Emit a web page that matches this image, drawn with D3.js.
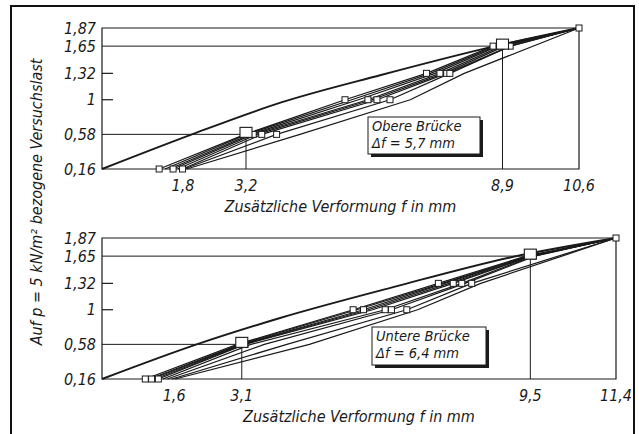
<!DOCTYPE html>
<html>
<head>
<meta charset="utf-8">
<script src="https://cdn.jsdelivr.net/npm/d3@7"></script>
<style>
  body { margin: 0; background: #fff; }
  text { font-family: "DejaVu Sans Condensed", "Liberation Sans Narrow", sans-serif; font-style: italic; fill: #1a1a1a; }
</style>
</head>
<body>
<svg width="639" height="434"></svg>
<script>
// Laststufen, bezogen auf p = 5 kN/m2
var loadLevels = [0.16, 0.58, 1, 1.32, 1.65, 1.87];
var loadLabels = ["0,16", "0,58", "1", "1,32", "1,65", "1,87"];
var innerTicks = [1, 1.32];

// obere Brücke
var obenTicks = [1.8, 3.2, 8.9, 10.6];
var obenTickLabels = ["1,8", "3,2", "8,9", "10,6"];
var obenErstF = [0, 2.0, 4.0, 6.2, 8.5, 10.6];
var obenErstP = [0.16, 0.58, 0.97, 1.30, 1.62, 1.87];
var obenZyklen = [
  [1.27, 3.18, 5.40, 7.21, 8.69, 10.6],
  [1.40, 3.22, 5.55, 7.30, 8.75, 10.6],
  [1.50, 3.30, 5.70, 7.40, 8.80, 10.6],
  [1.58, 3.36, 5.91, 7.51, 8.88, 10.6],
  [1.68, 3.45, 6.00, 7.60, 8.95, 10.6],
  [1.79, 3.55, 6.11, 7.66, 9.07, 10.6],
  [1.82, 3.88, 6.40, 7.73, 9.07, 10.6],
  [1.88, 4.40, 6.85, 8.05, null, 10.6]
];
var obenMarkF = [1.27, 1.58, 1.79, 3.36, 3.55, 3.88, 5.40, 5.91, 6.11, 6.40, 7.21, 7.51, 7.66, 7.73, 8.69, 9.07, 10.6];
var obenMarkP = [0.16, 0.16, 0.16, 0.58, 0.58, 0.58, 1, 1, 1, 1, 1.32, 1.32, 1.32, 1.32, 1.65, 1.65, 1.87];
var obenRefF = [3.2, 8.9];
var obenRefP = [0.58, 1.65];
var obenText = ["Obere Brücke", "Δf = 5,7 mm"];

// untere Brücke
var untenTicks = [1.6, 3.1, 9.5, 11.4];
var untenTickLabels = ["1,6", "3,1", "9,5", "11,4"];
var untenErstF = [0, 2.1, 3.95, 6.5, 9.1, 11.4];
var untenErstP = [0.16, 0.58, 0.90, 1.28, 1.64, 1.87];
var untenZyklen = [
  [0.96, 3.00, 5.57, 7.46, 9.40, 11.4],
  [1.05, 3.06, 5.65, 7.55, 9.45, 11.4],
  [1.10, 3.10, 5.80, 7.60, 9.48, 11.4],
  [1.18, 3.14, 5.90, 7.70, 9.52, 11.4],
  [1.25, 3.17, 6.00, 7.79, 9.53, 11.4],
  [1.35, 3.30, 6.28, 7.98, 9.56, 11.4],
  [1.45, 3.60, 6.42, 8.05, 9.60, 11.4],
  [1.55, 4.10, 6.76, 8.20, null, 11.4],
  [1.62, 4.60, 7.00, 8.40, null, 11.4]
];
var untenMarkF = [0.96, 1.10, 1.25, 3.17, 5.57, 5.80, 6.28, 6.42, 6.76, 7.46, 7.79, 7.98, 8.20, 9.56, 11.4];
var untenMarkP = [0.16, 0.16, 0.16, 0.58, 1, 1, 1, 1, 1, 1.32, 1.32, 1.32, 1.32, 1.65, 1.87];
var untenRefF = [3.1, 9.5];
var untenRefP = [0.58, 1.65];
var untenText = ["Untere Brücke", "Δf = 6,4 mm"];

var svg = d3.select("svg");

// Rahmen
svg.append("rect")
  .attr("x", 11).attr("y", 6).attr("width", 623).attr("height", 440)
  .attr("fill", "none").attr("stroke", "#111").attr("stroke-width", 2);

svg.append("text")
  .attr("transform", "translate(42,202) rotate(-90)")
  .attr("text-anchor", "middle")
  .attr("font-size", 16)
  .text("Auf p = 5 kN/m² bezogene Versuchslast");

function panel(o) {
  var x = d3.scaleLinear().domain([0, o.fMax]).range([102, o.right]);
  var y = d3.scaleLinear().domain([0.16, 1.87]).range([o.bottom, o.top]);
  var g = svg.append("g");
  var ink = "#1a1a1a";

  // Kasten
  g.append("path")
    .attr("d", "M" + x(0) + "," + y(1.87) + "H" + x(o.fMax) + "V" + y(0.16) + "H" + x(0) + "Z")
    .attr("fill", "none").attr("stroke", ink).attr("stroke-width", 1.2);

  // Bezugslinien
  o.refF.forEach(function (f, i) {
    var p = o.refP[i];
    g.append("path")
      .attr("d", "M" + x(0) + "," + y(p) + "H" + x(f) + "M" + x(f) + "," + y(p) + "V" + y(0.16))
      .attr("fill", "none").attr("stroke", ink).attr("stroke-width", 1);
  });

  innerTicks.forEach(function (p) {
    g.append("line")
      .attr("x1", x(0)).attr("x2", x(0) + 11)
      .attr("y1", y(p)).attr("y2", y(p))
      .attr("stroke", ink).attr("stroke-width", 1.2);
  });

  g.selectAll(".yl").data(loadLevels).enter().append("text")
    .attr("x", 96).attr("y", function (d) { return y(d); })
    .attr("dy", "0.36em").attr("text-anchor", "end")
    .attr("font-size", 16)
    .text(function (d, i) { return loadLabels[i]; });

  g.selectAll(".xl").data(o.ticks).enter().append("text")
    .attr("x", function (d) { return x(d); }).attr("y", o.bottom + 22)
    .attr("text-anchor", "middle").attr("font-size", 16)
    .text(function (d, i) { return o.tickLabels[i]; });

  g.append("text")
    .attr("x", (x(0) + x(o.fMax)) / 2).attr("y", o.bottom + 43)
    .attr("text-anchor", "middle").attr("font-size", 16)
    .text("Zusätzliche Verformung f in mm");

  // Lastzyklen
  var line = d3.line()
    .x(function (d) { return x(d[0]); })
    .y(function (d) { return y(d[1]); });

  o.zyklen.forEach(function (z) {
    var pts = z.map(function (f, i) { return [f, loadLevels[i]]; }).filter(function (d) { return d[0] != null; });
    g.append("path").attr("d", line(pts))
      .attr("fill", "none").attr("stroke", ink).attr("stroke-width", 1.25)
      .attr("stroke-linejoin", "round");
  });

  var erst = o.erstF.map(function (f, i) { return [f, o.erstP[i]]; });
  g.append("path").attr("d", line.curve(d3.curveMonotoneX)(erst))
    .attr("fill", "none").attr("stroke", ink).attr("stroke-width", 1.9);
  line.curve(d3.curveLinear);

  g.selectAll(".m").data(o.markF).enter().append("rect")
    .attr("x", function (d) { return x(d) - 3; })
    .attr("y", function (d, i) { return y(o.markP[i]) - 3; })
    .attr("width", 6).attr("height", 6)
    .attr("fill", "#fff").attr("stroke", ink).attr("stroke-width", 1);

  g.selectAll(".big").data(o.refF).enter().append("rect")
    .attr("x", function (d) { return x(d) - 6; })
    .attr("y", function (d, i) { return y(o.refP[i]) - 7; })
    .attr("width", 12).attr("height", 10)
    .attr("fill", "#fff").attr("stroke", ink).attr("stroke-width", 1.1);

  // Beschriftung
  var b = o.box;
  g.append("rect").attr("x", b[0] + 3).attr("y", b[1] + 3).attr("width", b[2]).attr("height", b[3]).attr("fill", ink);
  g.append("rect").attr("x", b[0]).attr("y", b[1]).attr("width", b[2]).attr("height", b[3])
    .attr("fill", "#fff").attr("stroke", ink).attr("stroke-width", 1);
  o.text.forEach(function (t, i) {
    g.append("text").attr("x", b[0] + 4).attr("y", b[1] + 14 + i * 17)
      .attr("font-size", 14.5).text(t);
  });
}

panel({ fMax: 10.6, right: 579, top: 28, bottom: 169, ticks: obenTicks, tickLabels: obenTickLabels,
  erstF: obenErstF, erstP: obenErstP, zyklen: obenZyklen, markF: obenMarkF, markP: obenMarkP,
  refF: obenRefF, refP: obenRefP, text: obenText, box: [368, 117, 112, 37] });

panel({ fMax: 11.4, right: 616, top: 238, bottom: 379, ticks: untenTicks, tickLabels: untenTickLabels,
  erstF: untenErstF, erstP: untenErstP, zyklen: untenZyklen, markF: untenMarkF, markP: untenMarkP,
  refF: untenRefF, refP: untenRefP, text: untenText, box: [372, 327, 114, 38] });
</script>
</body>
</html>
